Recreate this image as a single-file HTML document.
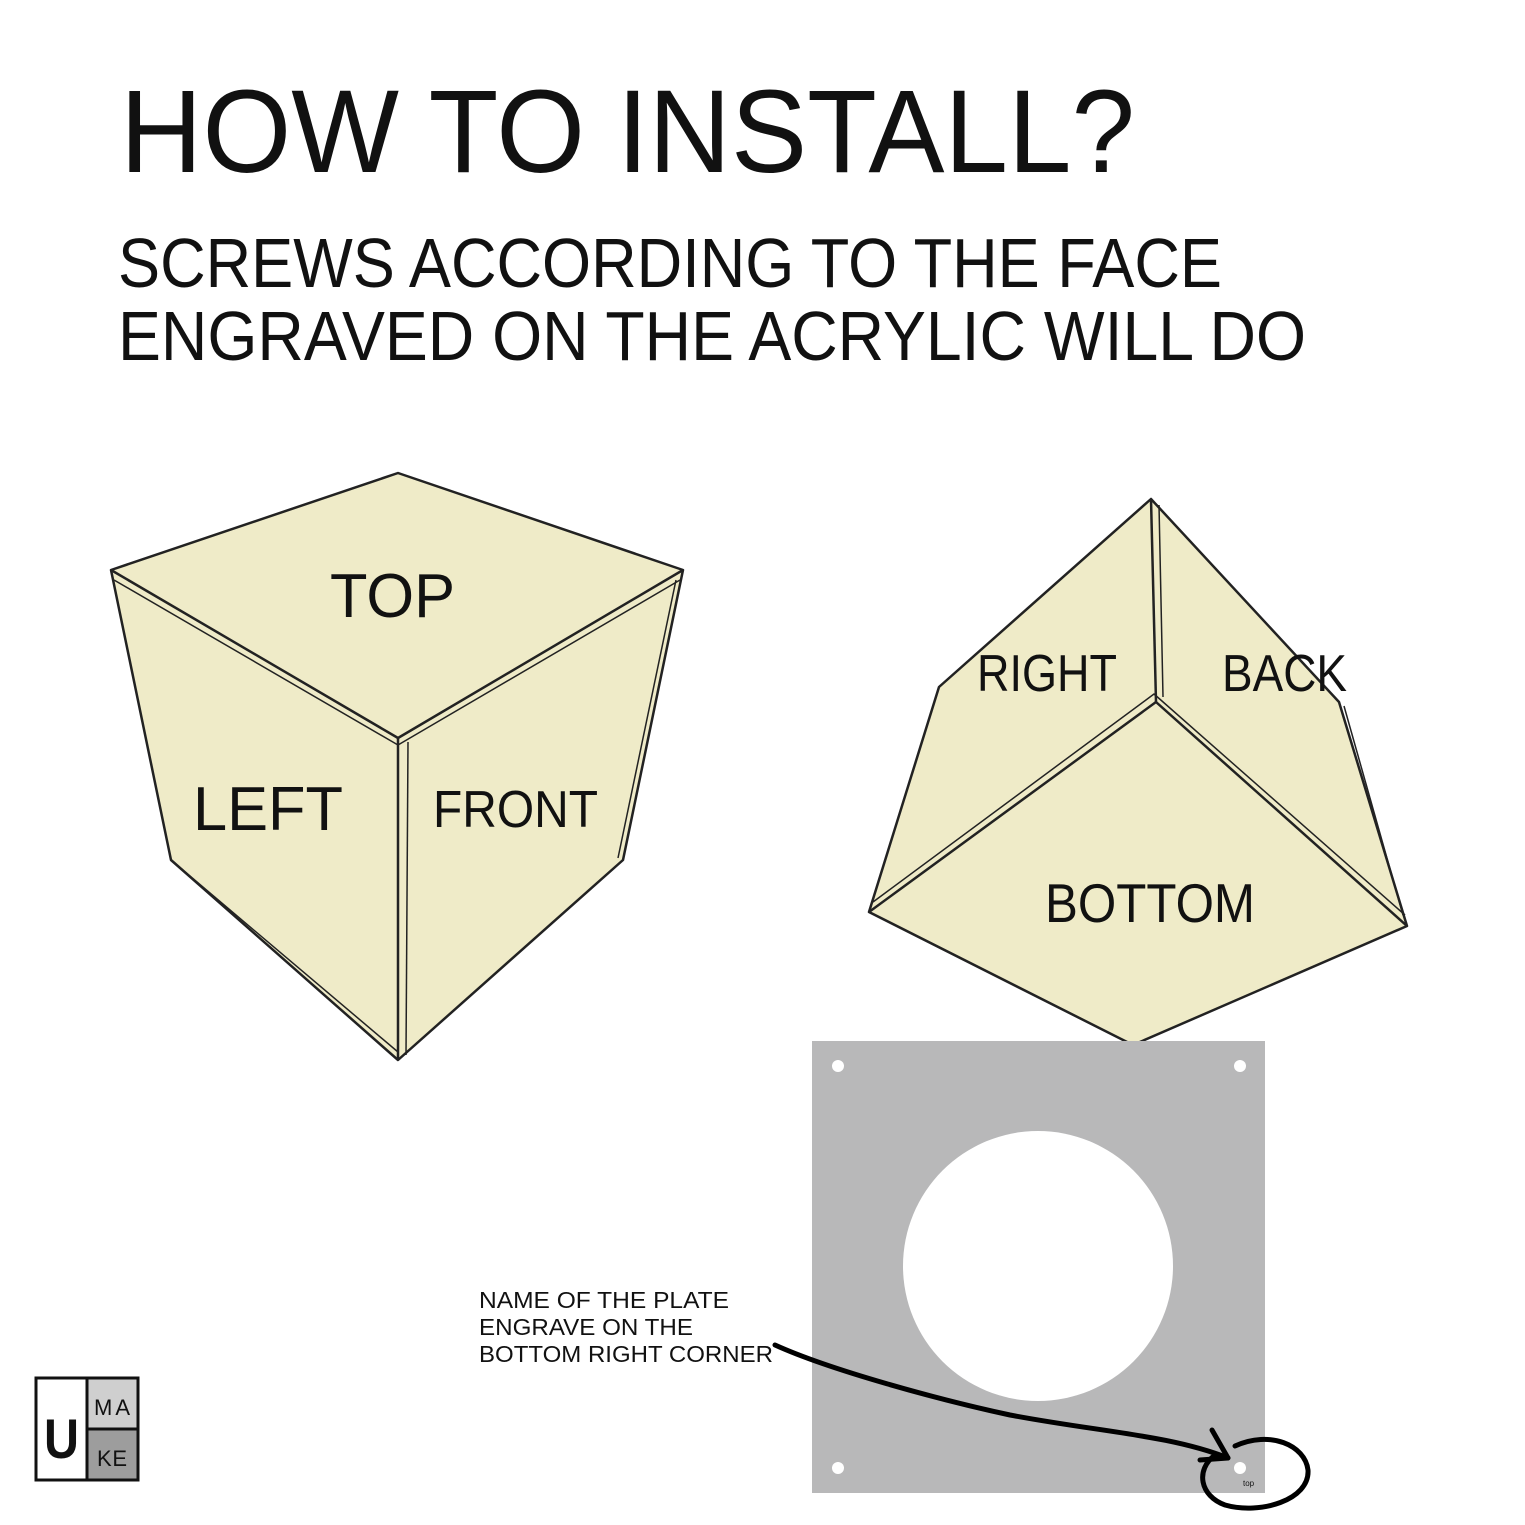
<!DOCTYPE html>
<html><head><meta charset="utf-8"><style>
html,body{margin:0;padding:0;background:#fff;}
svg{display:block;}
text{font-family:"Liberation Sans",sans-serif;fill:#111;}
</style></head><body>
<svg width="1525" height="1525" viewBox="0 0 1525 1525" xmlns="http://www.w3.org/2000/svg">
<rect width="1525" height="1525" fill="#fff"/>
<text x="120" y="172" font-size="118" textLength="1015" lengthAdjust="spacingAndGlyphs">HOW TO INSTALL?</text>
<text x="118" y="287" font-size="70" textLength="1104" lengthAdjust="spacingAndGlyphs">SCREWS ACCORDING TO THE FACE</text>
<text x="118" y="360" font-size="70" textLength="1188" lengthAdjust="spacingAndGlyphs">ENGRAVED ON THE ACRYLIC WILL DO</text>

<!-- left cube -->
<g stroke="#222" stroke-width="2.5" stroke-linejoin="round" fill="#efebc8">
<polygon points="398,473 683,570 623,860 398,1060 171,860 111,570"/>
<polyline fill="none" points="111,570 398,738 683,570"/>
<polyline fill="none" stroke-width="1.5" points="114,580 398,745 680,580"/>
<line x1="398" y1="738" x2="398" y2="1060"/>
<line x1="408" y1="742" x2="406" y2="1055" stroke-width="1.5"/>
<line x1="676" y1="580" x2="618" y2="858" stroke-width="1.5"/>
<line x1="171" y1="860" x2="398" y2="1052" stroke-width="1.5"/>
</g>
<text x="330" y="617" font-size="62" textLength="125" lengthAdjust="spacingAndGlyphs">TOP</text>
<text x="193" y="830" font-size="62" textLength="150" lengthAdjust="spacingAndGlyphs">LEFT</text>
<text x="433" y="827" font-size="52" textLength="165" lengthAdjust="spacingAndGlyphs">FRONT</text>

<!-- right cube -->
<g stroke="#222" stroke-width="2.5" stroke-linejoin="round" fill="#efebc8">
<polygon points="1151,499 1339,702 1407,926 1133,1045 869,912 939,687"/>
<line x1="1151" y1="499" x2="1156" y2="702"/>
<line x1="1159" y1="505" x2="1163" y2="697" stroke-width="1.5"/>
<polyline fill="none" points="869,912 1156,702 1407,926"/>
<polyline fill="none" stroke-width="1.5" points="873,902 1154,694 1405,915"/>
<line x1="1344" y1="706" x2="1403" y2="915" stroke-width="1.5"/>
</g>
<text x="977" y="691" font-size="52" textLength="140" lengthAdjust="spacingAndGlyphs">RIGHT</text>
<text x="1222" y="691" font-size="52" textLength="125" lengthAdjust="spacingAndGlyphs">BACK</text>
<text x="1045" y="922" font-size="55" textLength="210" lengthAdjust="spacingAndGlyphs">BOTTOM</text>

<!-- plate -->
<rect x="812" y="1041" width="453" height="452" fill="#b8b8b9"/>
<circle cx="1038" cy="1266" r="135" fill="#fff"/>
<g fill="#fff"><circle cx="838" cy="1066" r="6"/><circle cx="1240" cy="1066" r="6"/><circle cx="838" cy="1468" r="6"/><circle cx="1240" cy="1468" r="6"/></g>
<text x="1243" y="1486" font-size="8">top</text>

<text x="479" y="1308" font-size="23" textLength="250" lengthAdjust="spacingAndGlyphs">NAME OF THE PLATE</text>
<text x="479" y="1335" font-size="23" textLength="214" lengthAdjust="spacingAndGlyphs">ENGRAVE ON THE</text>
<text x="479" y="1362" font-size="23" textLength="294" lengthAdjust="spacingAndGlyphs">BOTTOM RIGHT CORNER</text>

<g fill="none" stroke="#000" stroke-width="5" stroke-linecap="round" stroke-linejoin="round">
<path d="M775,1345 C830,1370 940,1400 1010,1415 C1100,1432 1170,1435 1228,1458"/>
<path d="M1212,1430 L1228,1458 L1200,1460"/>
<path d="M1235,1446 C1270,1430 1305,1445 1308,1470 C1310,1500 1260,1515 1225,1505 C1200,1496 1195,1470 1215,1455"/>
</g>

<!-- logo -->
<rect x="87" y="1378" width="51" height="51" fill="#cfcfcf"/>
<rect x="87" y="1429" width="51" height="51" fill="#9d9d9d"/>
<rect x="36" y="1378" width="102" height="102" fill="none" stroke="#111" stroke-width="3"/>
<line x1="87" y1="1378" x2="87" y2="1480" stroke="#111" stroke-width="3"/>
<line x1="87" y1="1429" x2="138" y2="1429" stroke="#111" stroke-width="3"/>
<text x="44" y="1458" font-size="56" font-weight="bold" textLength="35" lengthAdjust="spacingAndGlyphs">U</text>
<text x="94" y="1415" font-size="22" textLength="36" lengthAdjust="spacing">MA</text>
<text x="97" y="1466" font-size="22" textLength="30" lengthAdjust="spacing">KE</text>
</svg>
</body></html>
